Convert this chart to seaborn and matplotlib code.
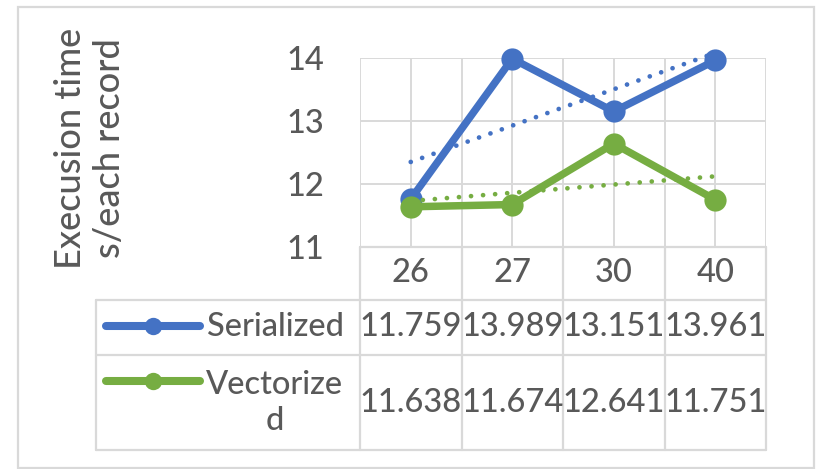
import numpy as np
import pandas as pd
import matplotlib
matplotlib.use("Agg")
import matplotlib.pyplot as plt
import seaborn as sns
from matplotlib.patches import Rectangle

# ---- data -------------------------------------------------------------
categories = ["26", "27", "30", "40"]
series_names = ["Serialized", "Vectorized"]
row_labels = ["Serialized", "Vectorize\nd"]
serialized = [11.759, 13.989, 13.151, 13.961]
vectorized = [11.638, 11.674, 12.641, 11.751]
y_ticks = [11, 12, 13, 14]
y_label = "Execusion time\ns/each record"

# ---- style ------------------------------------------------------------
BLUE = "#4472C4"
GREEN = "#76AD42"
TEXT = "#595959"
GRID = "#D9D9D9"
FS = 23.5
FW = "medium"

sns.set_theme(style="white")
plt.rcParams["font.family"] = ["Lato", "DejaVu Sans"]

W, H = 819, 469
fig = plt.figure(figsize=(W / 100, H / 100), dpi=100)


def px_rect(x0, y0, x1, y1):
    return [x0 / W, 1 - y1 / H, (x1 - x0) / W, (y1 - y0) / H]


# pixel-space overlay for the frame and the data table
ov = fig.add_axes([0, 0, 1, 1], zorder=0)
ov.set_xlim(0, W)
ov.set_ylim(H, 0)
ov.axis("off")
ov.add_patch(Rectangle((18, 7), 796, 461, fill=False, ec=GRID, lw=1.6))

# ---- plot area ---------------------------------------------------------
PL, PT, PR, PB = 360, 58, 766, 247
ax = fig.add_axes(px_rect(PL, PT, PR, PB), zorder=2)
ax.patch.set_alpha(0)

n = len(categories)
xs = np.arange(n)
df = pd.DataFrame({
    "x": np.concatenate([xs, xs]),
    "value": serialized + vectorized,
    "series": [series_names[0]] * n + [series_names[1]] * n,
})

sns.lineplot(data=df, x="x", y="value", hue="series", hue_order=series_names,
             palette=[BLUE, GREEN], marker="o", markersize=16,
             markeredgewidth=0, linewidth=5.4, legend=False, ax=ax,
             clip_on=False, zorder=3)

# linear trendlines
for vals, col in zip([serialized, vectorized], [BLUE, GREEN]):
    coef = np.polyfit(xs, vals, 1)
    ax.plot(xs, np.polyval(coef, xs), color=col, lw=3.4,
            linestyle=(0, (0.01, 2.55)), dash_capstyle="round",
            clip_on=False, zorder=4)

ax.set_xlim(-0.5, n - 0.5)
ax.set_ylim(y_ticks[0], y_ticks[-1])
ax.set_yticks(y_ticks)
ax.set_yticklabels([str(t) for t in y_ticks], fontsize=FS, color=TEXT,
                   fontweight=FW)
ax.set_xticks(np.arange(-0.5, n, 0.5))
ax.set_xticklabels([])
ax.tick_params(axis="both", length=0)
ax.tick_params(axis="y", pad=26)
ax.grid(True, color=GRID, lw=1.4)
ax.set_axisbelow(True)
for s in ax.spines.values():
    s.set_visible(False)
ax.set_xlabel("")
ax.set_ylabel("")

fig.text(90 / W, 1 - 148 / H, y_label, rotation=90, ha="center", va="center",
         fontsize=26, color=TEXT, linespacing=1.22, multialignment="center",
         fontweight=FW)

# ---- data table ----------------------------------------------------------
col_w = (PR - PL) / n
col_edges = [PL + i * col_w for i in range(n + 1)]
col_mid = [PL + (i + 0.5) * col_w for i in range(n)]
TL = 96
row_edges = [PB, 300, 355, 450]

ov.plot([PL, PR], [PB, PB], color=GRID, lw=1.6)
for yy in row_edges[1:]:
    ov.plot([TL, PR], [yy, yy], color=GRID, lw=1.6)
for xx in col_edges:
    ov.plot([xx, xx], [PB, row_edges[-1]], color=GRID, lw=1.6)
ov.plot([TL, TL], [row_edges[1], row_edges[-1]], color=GRID, lw=1.6)

hdr_y = (row_edges[0] + row_edges[1]) / 2
for xm, c in zip(col_mid, categories):
    ov.text(xm, hdr_y, c, ha="center", va="center", fontsize=FS, color=TEXT,
            fontweight=FW)

label_x = 275
for r, (vals, col, lab) in enumerate(zip([serialized, vectorized],
                                         [BLUE, GREEN], row_labels)):
    y0, y1 = row_edges[r + 1], row_edges[r + 2]
    ym = (y0 + y1) / 2
    for xm, v in zip(col_mid, vals):
        ov.text(xm, ym, f"{v:.3f}", ha="center", va="center", fontsize=FS,
                color=TEXT, fontweight=FW)
    key_y = y0 + 26
    ov.plot([106, 200], [key_y, key_y], color=col, lw=5.8,
            solid_capstyle="round")
    ov.plot([153], [key_y], marker="o", ms=12.5, color=col, mew=0)
    ov.text(label_x, ym, lab, ha="center", va="center", fontsize=FS,
            color=TEXT, linespacing=1.25, multialignment="center",
            fontweight=FW)

fig.savefig("out.png", dpi=100)
